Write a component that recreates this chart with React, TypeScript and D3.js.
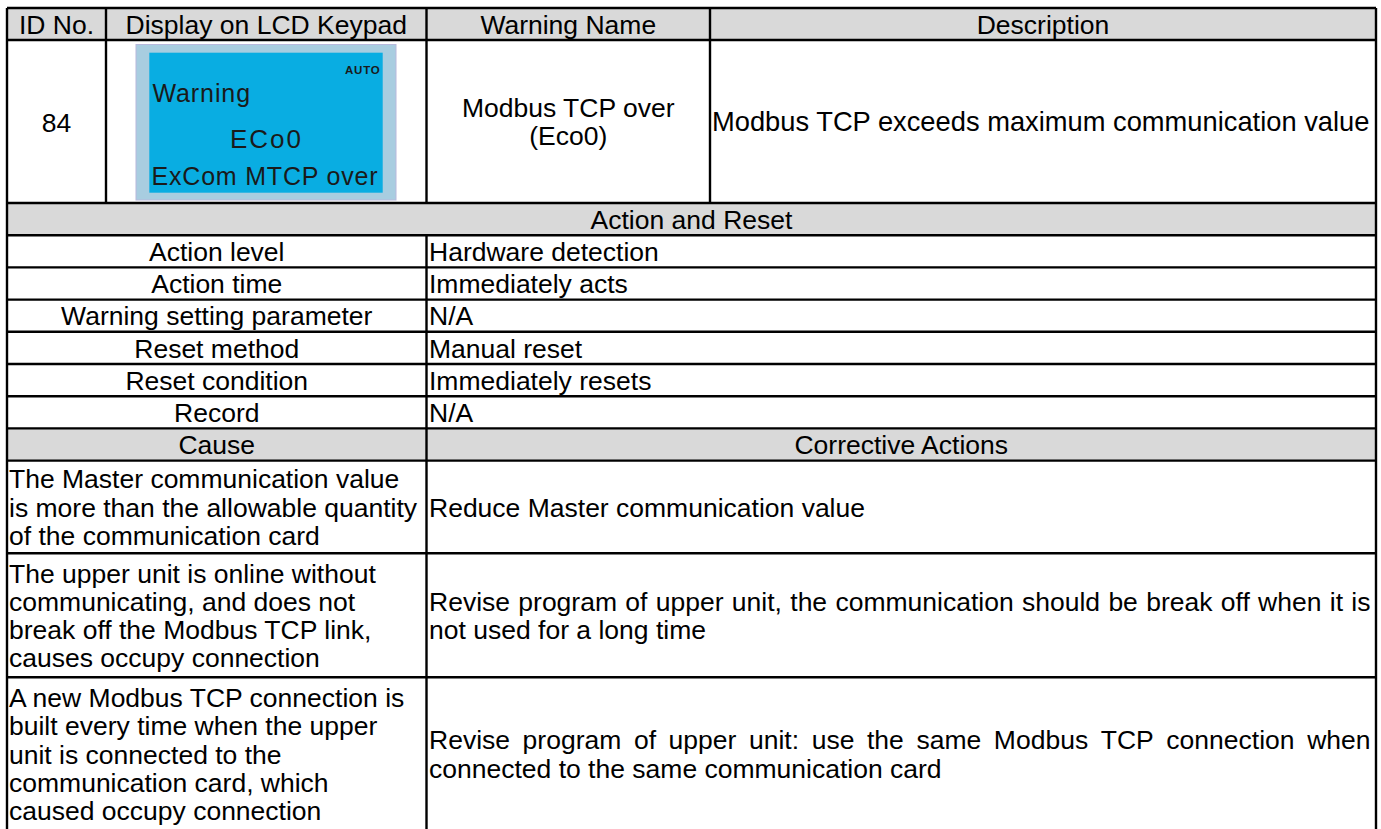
import React from "react";
import * as d3 from "d3";

// ---------- content ----------
const headerLabels = ["ID No.", "Display on LCD Keypad", "Warning Name", "Description"];
const idNumber = "84";
const lcdLines = ["Warning", "ECo0", "ExCom MTCP over"];
const lcdMode = "AUTO";
const warningNameLines = ["Modbus TCP over", "(Eco0)"];
const descriptionText = "Modbus TCP exceeds maximum communication value";
const sectionTitle = "Action and Reset";
const actionLabels = [
  "Action level",
  "Action time",
  "Warning setting parameter",
  "Reset method",
  "Reset condition",
  "Record",
];
const actionValues = [
  "Hardware detection",
  "Immediately acts",
  "N/A",
  "Manual reset",
  "Immediately resets",
  "N/A",
];
const causeHeaders = ["Cause", "Corrective Actions"];
const causeLines = [
  ["The Master communication value", "is more than the allowable quantity", "of the communication card"],
  ["The upper unit is online without", "communicating, and does not", "break off the Modbus TCP link,", "causes occupy connection"],
  [
    "A new Modbus TCP connection is",
    "built every time when the upper",
    "unit is connected to the",
    "communication card, which",
    "caused occupy connection",
  ],
];
const correctiveLines = [
  ["Reduce Master communication value"],
  ["Revise program of upper unit, the communication should be break off when it is", "not used for a long time"],
  ["Revise program of upper unit: use the same Modbus TCP connection when", "connected to the same communication card"],
];

// ---------- layout ----------
const W = 1381;
const H = 829;
const FONT = '"Liberation Sans", Arial, Helvetica, sans-serif';
const FS = 26.5;
const DESC_FS = 27.3;
const LINE_H = 28.3;
const BASE_OFF = 9.7;
const STROKE = 2.4;
const GRAY = "#d9d9d9";

const colX = { left: 7, c1: 106, c2: 426.5, c3: 710, right: 1376 };
const rowHeights = [32, 163, 32.2, 32.2, 32.2, 32.2, 32.2, 32.2, 32.2, 32.2, 92.7, 124, 160];
const top = 8;
const rowY = [top, ...d3.cumsum(rowHeights).map((v) => top + v)];

let ctx: CanvasRenderingContext2D | null = null;
function measure(text: string): number {
  if (!ctx) {
    const c = document.createElement("canvas");
    ctx = c.getContext("2d");
  }
  if (!ctx) return text.length * FS * 0.5;
  ctx.font = `${FS}px "Liberation Sans", Arial, sans-serif`;
  return ctx.measureText(text).width;
}

function Justified({ text, x, y, width }: { text: string; x: number; y: number; width: number }) {
  const words = text.split(" ");
  const widths = words.map(measure);
  const total = d3.sum(widths);
  const gap = words.length > 1 ? (width - total) / (words.length - 1) : 0;
  let cx = x;
  const xs = widths.map((w) => {
    const p = cx;
    cx += w + gap;
    return p;
  });
  return (
    <text y={y} fontSize={FS}>
      {words.map((w, i) => (
        <tspan key={i} x={xs[i]}>
          {w}
        </tspan>
      ))}
    </text>
  );
}

function lineYs(y0: number, y1: number, n: number) {
  const mid = (y0 + y1) / 2;
  return d3.range(n).map((i) => mid + BASE_OFF + (i - (n - 1) / 2) * LINE_H);
}

export default function App() {
  const hdrY = lineYs(rowY[0], rowY[1], 1)[0];
  const r1Mid = (rowY[1] + rowY[2]) / 2;
  const colCenters = [
    (colX.left + colX.c1) / 2,
    (colX.c1 + colX.c2) / 2,
    (colX.c2 + colX.c3) / 2,
    (colX.c3 + colX.right) / 2,
  ];

  const lcdOuter = { x: 136, y: 44.5, w: 260, h: 155.5 };
  const lcdInner = { x: 149.3, y: 52.7, w: 233.4, h: 140 };

  const actionStart = 3;
  const causeHdrRow = actionStart + actionLabels.length;
  const causeStart = causeHdrRow + 1;

  return (
    <svg
      width={W}
      height={H}
      style={{ position: "absolute", left: 0, top: 0, background: "#fff" }}
      fontFamily={FONT}
      fill="#000"
    >
      <rect x={0} y={0} width={W} height={H} fill="#fff" />
      {[0, 2, causeHdrRow].map((r) => (
        <rect key={r} x={colX.left} y={rowY[r]} width={colX.right - colX.left} height={rowY[r + 1] - rowY[r]} fill={GRAY} />
      ))}

      {/* LCD */}
      <rect x={lcdOuter.x} y={lcdOuter.y} width={lcdOuter.w} height={lcdOuter.h} fill="#a8cde0" stroke="#b8b8dc" strokeWidth={1} />
      <rect x={lcdInner.x} y={lcdInner.y} width={lcdInner.w} height={lcdInner.h} fill="#09ade2" />
      <text x={380.5} y={74} fontSize={11.5} fontWeight="bold" textAnchor="end" letterSpacing={0.8} fill="#1a1a1a">
        {lcdMode}
      </text>
      <text x={152.5} y={101.5} fontSize={25} letterSpacing={0.9} fill="#1a1a1a">
        {lcdLines[0]}
      </text>
      <text x={266.5} y={147.5} fontSize={26} letterSpacing={2} textAnchor="middle" fill="#1a1a1a">
        {lcdLines[1]}
      </text>
      <text x={151.5} y={185} fontSize={25} letterSpacing={0.8} fill="#1a1a1a">
        {lcdLines[2]}
      </text>

      {/* header */}
      {headerLabels.map((h, i) => (
        <text key={h} x={colCenters[i]} y={hdrY} fontSize={FS} textAnchor="middle">
          {h}
        </text>
      ))}

      {/* row 84 */}
      <text x={colCenters[0]} y={r1Mid + 10.5} fontSize={FS} textAnchor="middle">
        {idNumber}
      </text>
      {lineYs(rowY[1], rowY[2], warningNameLines.length).map((y, i) => (
        <text key={i} x={colCenters[2]} y={y} fontSize={FS} textAnchor="middle">
          {warningNameLines[i]}
        </text>
      ))}
      <text x={colX.c3 + 2} y={r1Mid + BASE_OFF} fontSize={DESC_FS}>
        {descriptionText}
      </text>

      {/* Action and Reset */}
      <text x={(colX.left + colX.right) / 2} y={lineYs(rowY[2], rowY[3], 1)[0]} fontSize={FS} textAnchor="middle">
        {sectionTitle}
      </text>
      {actionLabels.map((lab, i) => {
        const y = lineYs(rowY[actionStart + i], rowY[actionStart + i + 1], 1)[0];
        return (
          <g key={lab}>
            <text x={(colX.left + colX.c2) / 2} y={y} fontSize={FS} textAnchor="middle">
              {lab}
            </text>
            <text x={colX.c2 + 2.5} y={y} fontSize={FS}>
              {actionValues[i]}
            </text>
          </g>
        );
      })}

      {/* Cause header */}
      {causeHeaders.map((c, i) => (
        <text
          key={c}
          x={i === 0 ? (colX.left + colX.c2) / 2 : (colX.c2 + colX.right) / 2}
          y={lineYs(rowY[causeHdrRow], rowY[causeHdrRow + 1], 1)[0]}
          fontSize={FS}
          textAnchor="middle"
        >
          {c}
        </text>
      ))}

      {/* Causes */}
      {causeLines.map((lines, r) => {
        const y0 = rowY[causeStart + r];
        const y1 = r === causeLines.length - 1 ? y0 + 153 : rowY[causeStart + r + 1];
        const ys = lineYs(y0, y1, lines.length);
        const cor = correctiveLines[r];
        const cys = lineYs(y0, y1, cor.length);
        return (
          <g key={r}>
            {lines.map((l, i) => (
              <text key={i} x={colX.left + 2} y={ys[i]} fontSize={FS}>
                {l}
              </text>
            ))}
            {cor.map((l, i) =>
              cor.length > 1 && i < cor.length - 1 ? (
                <Justified key={i} text={l} x={colX.c2 + 2.5} y={cys[i]} width={colX.right - 5.5 - (colX.c2 + 2.5)} />
              ) : (
                <text key={i} x={colX.c2 + 2.5} y={cys[i]} fontSize={FS}>
                  {l}
                </text>
              )
            )}
          </g>
        );
      })}

      {/* grid lines */}
      <g stroke="#000" strokeWidth={STROKE}>
        {rowY.map((y, i) => (
          <line key={i} x1={colX.left} x2={colX.right} y1={y} y2={y} />
        ))}
        <line x1={colX.left} x2={colX.left} y1={rowY[0]} y2={H + 10} />
        <line x1={colX.right} x2={colX.right} y1={rowY[0]} y2={H + 10} />
        <line x1={colX.c1} x2={colX.c1} y1={rowY[0]} y2={rowY[2]} />
        <line x1={colX.c2} x2={colX.c2} y1={rowY[0]} y2={rowY[2]} />
        <line x1={colX.c3} x2={colX.c3} y1={rowY[0]} y2={rowY[2]} />
        <line x1={colX.c2} x2={colX.c2} y1={rowY[3]} y2={H + 10} />
      </g>
    </svg>
  );
}
